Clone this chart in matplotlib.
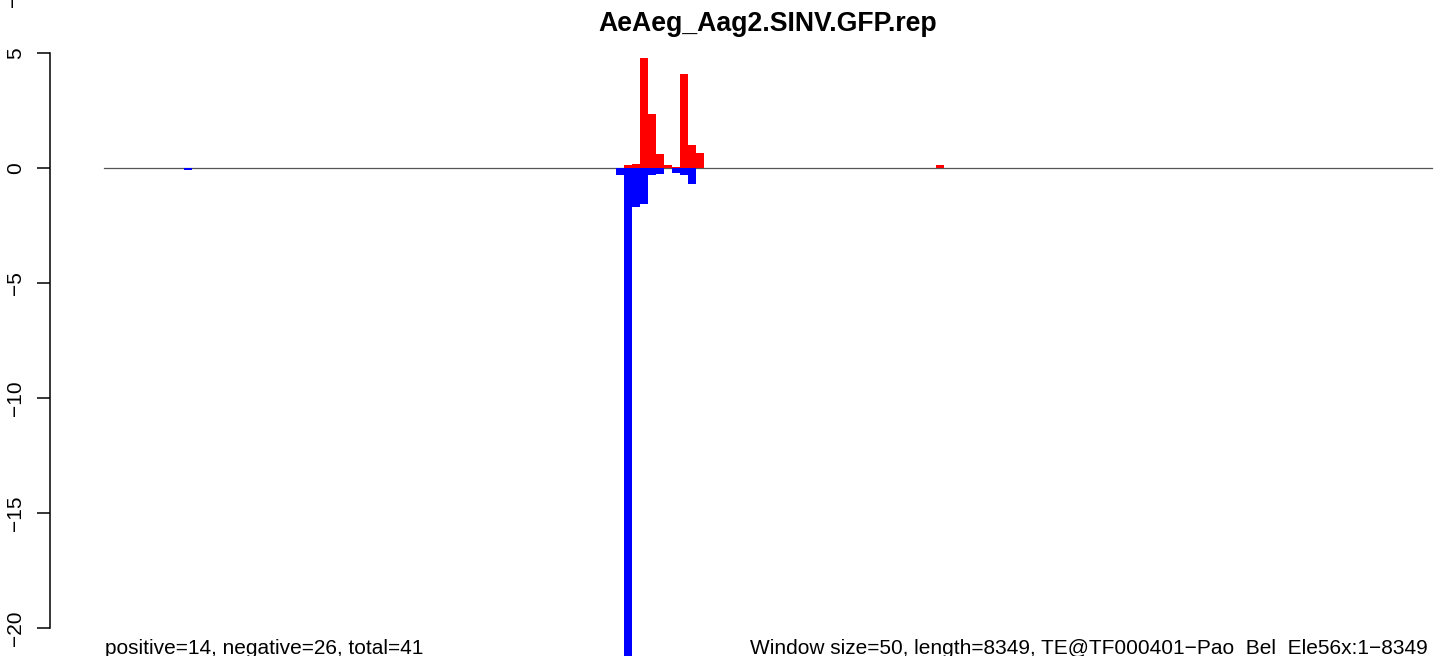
import numpy as np
import matplotlib
matplotlib.use("Agg")
import matplotlib.pyplot as plt

plt.rcParams['font.family'] = ['Liberation Sans', 'DejaVu Sans']

# Data: window index (50 bp windows) and read densities
title = "AeAeg_Aag2.SINV.GFP.rep"
window = 50
n_windows = 166
pos_idx = [65, 66, 67, 68, 69, 70, 71, 72, 73, 74, 104]
pos_val = [0.13, 0.17, 4.78, 2.35, 0.60, 0.13, 0.04, 4.09, 1.00, 0.65, 0.15]
neg_idx = [10, 64, 65, 66, 67, 68, 69, 71, 72, 73]
neg_val = [-0.10, -0.30, -21.2, -1.68, -1.57, -0.30, -0.26, -0.22, -0.30, -0.70]
yticks = [-20, -15, -10, -5, 0, 5]
left_note = "positive=14, negative=26, total=41"
right_note = "Window size=50, length=8349, TE@TF000401\u2212Pao_Bel_Ele56x:1\u22128349"

W, H = 1444, 656
fig = plt.figure(figsize=(W / 100, H / 100), dpi=100)

# axes: left edge at px 50, spans to right edge; px = 104 + 0.16*bp
ax = fig.add_axes([50 / W, 0, 1 - 50 / W, 1])
ax.set_xlim(-337.5, 8375)
ax.set_ylim(-488 / 23, 168 / 23)
ax.patch.set_alpha(0)

# zero line
ax.plot([0, n_windows * window], [0, 0], color='#555555', lw=0.9, zorder=1)

ax.bar(np.array(pos_idx) * window, pos_val, width=window, align='edge',
       color='red', linewidth=0, zorder=2)
ax.bar(np.array(neg_idx) * window, neg_val, width=window, align='edge',
       color='blue', linewidth=0, zorder=2)

for s in ['top', 'right', 'bottom']:
    ax.spines[s].set_visible(False)
ax.spines['left'].set_bounds(yticks[0], yticks[-1])
ax.spines['left'].set_linewidth(1.1)
ax.set_xticks([])
ax.set_yticks(yticks)
ax.set_yticklabels([str(t).replace('-', '\u2212') for t in yticks])
ax.tick_params(axis='y', labelrotation=90, length=9.4, width=1.1, pad=8.3,
               labelsize=15)
for lab in ax.get_yticklabels():
    lab.set_va('center')

fig.text(768 / W, 1 - 31 / H, title, ha='center', va='baseline',
         fontsize=19.2, fontweight='bold')
fig.text(105 / W, 1 - 654 / H, left_note, ha='left', va='baseline', fontsize=15)
fig.text(1428 / W, 1 - 654 / H, right_note, ha='right', va='baseline', fontsize=15)
# label of the panel above, cut by the frame
fig.text(14 / W, 1 - 7 / H, "\u221220", rotation=90, ha='center', va='bottom',
         fontsize=15)

fig.savefig("out.png", dpi=100)
